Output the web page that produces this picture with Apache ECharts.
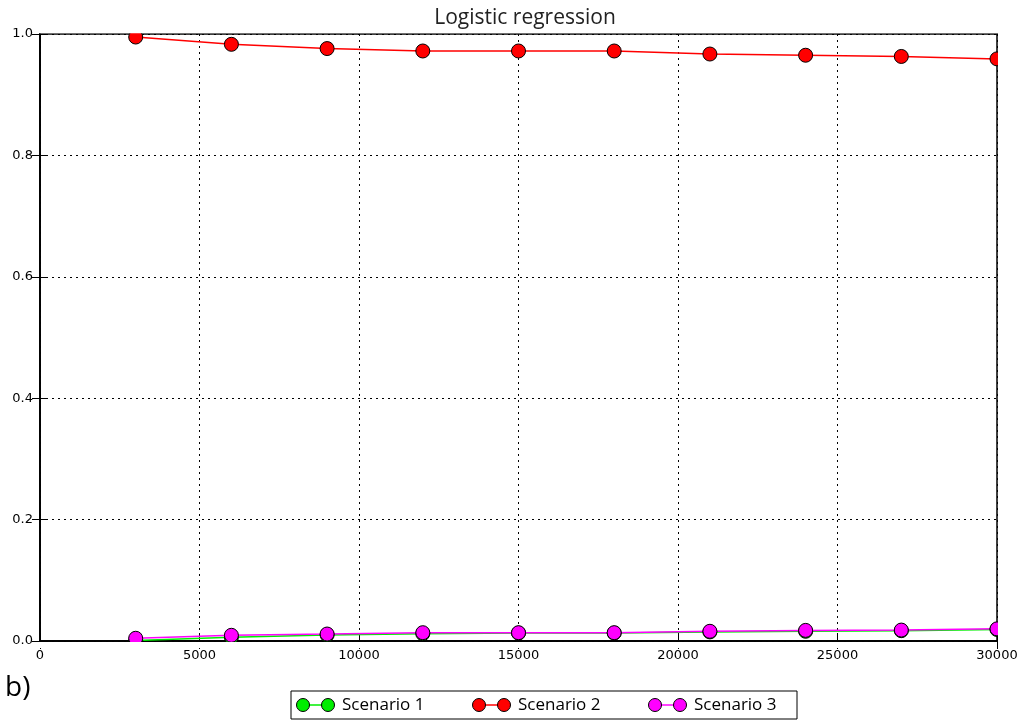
<!DOCTYPE html>
<html>
<head>
<meta charset="utf-8">
<script src="https://cdn.jsdelivr.net/npm/echarts@6/dist/echarts.min.js"></script>
<style>
  html, body { margin: 0; padding: 0; background: #fff; }
  #chart { width: 1024px; height: 721px; }
</style>
</head>
<body>
<div id="chart"></div>
<script>
// Training-set size on the x axis
const sizes = [3000, 6000, 9000, 12000, 15000, 18000, 21000, 24000, 27000, 30000];

// Score per scenario
const scenario1 = [0.001, 0.006, 0.010, 0.012, 0.013, 0.013, 0.015, 0.016, 0.017, 0.019];
const scenario2 = [0.995, 0.983, 0.976, 0.972, 0.972, 0.972, 0.967, 0.965, 0.963, 0.959];
const scenario3 = [0.0045, 0.0094, 0.0115, 0.0137, 0.0137, 0.0137, 0.016, 0.0175, 0.018, 0.020];

const seriesDefs = [
  { name: 'Scenario 1', color: '#00ee00', values: scenario1 },
  { name: 'Scenario 2', color: '#ff0000', values: scenario2 },
  { name: 'Scenario 3', color: '#ff00ff', values: scenario3 }
];

const font = 'DejaVu Sans';
const textFont = 'Open Sans';
const chart = echarts.init(document.getElementById('chart'), null, { renderer: 'canvas' });

const dotted = { show: true, lineStyle: { color: '#000', type: [2, 4], width: 1 } };

// Plot frame in pixels
const frame = { left: 40, right: 27, top: 34, bottom: 80 };
const W = 1024, H = 721;
const plotRight = W - frame.right, plotBottom = H - frame.bottom;

// Boxed legend below the plot: two bordered dots joined by a line, then the name
const legendBox = { x: 291, y: 691, w: 506, h: 28 };
const legendItems = [];
seriesDefs.forEach((s, i) => {
  const x0 = 303 + i * 176;
  const cy = legendBox.y + legendBox.h / 2;
  legendItems.push(
    { type: 'line', shape: { x1: x0, y1: cy, x2: x0 + 25, y2: cy }, style: { stroke: s.color, lineWidth: 1.5 } },
    { type: 'circle', shape: { cx: x0, cy: cy, r: 6.5 }, style: { fill: s.color, stroke: '#000', lineWidth: 1 } },
    { type: 'circle', shape: { cx: x0 + 25, cy: cy, r: 6.5 }, style: { fill: s.color, stroke: '#000', lineWidth: 1 } },
    { type: 'text', x: x0 + 39, y: cy, style: { text: s.name, font: '17px "Open Sans"', fill: '#000', verticalAlign: 'middle' } }
  );
});

// Markers are cut at the axes frame: white bands just outside the frame
const clipBands = [
  { type: 'rect', z: 100, silent: true, shape: { x: frame.left, y: frame.top - 6, width: plotRight - frame.left, height: 5.2 }, style: { fill: '#fff' } },
  { type: 'rect', z: 100, silent: true, shape: { x: plotRight + 1, y: frame.top - 6, width: 20, height: plotBottom - frame.top + 6 }, style: { fill: '#fff' } },
  { type: 'rect', z: 100, silent: true, shape: { x: frame.left, y: plotBottom + 1, width: plotRight - frame.left, height: 6 }, style: { fill: '#fff' } }
];

chart.setOption({
  animation: false,
  backgroundColor: '#fff',
  title: {
    text: 'Logistic regression',
    left: 520, top: 3, textAlign: 'center', z: 200,
    textStyle: { fontFamily: textFont, fontSize: 21, fontWeight: 'normal', color: '#222' }
  },
  graphic: [
    ...clipBands,
    { type: 'text', left: 5, top: 674, style: { text: 'b)', font: '28px "Open Sans"', fill: '#000' } },
    { type: 'rect', shape: { x: legendBox.x, y: legendBox.y, width: legendBox.w, height: legendBox.h },
      style: { fill: '#fff', stroke: '#000', lineWidth: 1 } },
    ...legendItems
  ],
  grid: { left: frame.left, right: frame.right, top: frame.top, bottom: frame.bottom, show: true, borderColor: '#000', borderWidth: 1.5 },
  xAxis: [{
    type: 'value', min: 0, max: 30000, interval: 5000,
    axisLine: { show: true, lineStyle: { color: '#000', width: 1.5 } },
    axisTick: { show: true, inside: true, length: 8, lineStyle: { color: '#000' } },
    axisLabel: { fontFamily: font, fontSize: 13, color: '#000', margin: 8, formatter: v => String(v) },
    splitLine: dotted
  }, {
    type: 'value', position: 'top', min: 0, max: 30000, interval: 5000,
    axisLine: { show: true, lineStyle: { color: '#000', width: 1.5 } },
    axisTick: { show: true, inside: true, length: 8, lineStyle: { color: '#000' } },
    axisLabel: { show: false }, splitLine: { show: false }
  }],
  yAxis: [{
    type: 'value', min: 0, max: 1, interval: 0.2,
    axisLine: { show: true, lineStyle: { color: '#000', width: 1.5 } },
    axisTick: { show: true, inside: true, length: 8, lineStyle: { color: '#000' } },
    axisLabel: { fontFamily: font, fontSize: 13, color: '#000', margin: 7, formatter: v => v.toFixed(1) },
    splitLine: dotted
  }, {
    type: 'value', position: 'right', min: 0, max: 1, interval: 0.2,
    axisLine: { show: true, lineStyle: { color: '#000', width: 1.5 } },
    axisTick: { show: true, inside: true, length: 8, lineStyle: { color: '#000' } },
    axisLabel: { show: false }, splitLine: { show: false }
  }],
  series: seriesDefs.map(s => ({
    name: s.name,
    type: 'line',
    data: sizes.map((x, i) => [x, s.values[i]]),
    symbol: 'circle',
    symbolSize: 14,
    showAllSymbol: true,
    clip: false,
    lineStyle: { color: s.color, width: 1.5 },
    itemStyle: { color: s.color, borderColor: '#000', borderWidth: 1 }
  }))
});
</script>
</body>
</html>
